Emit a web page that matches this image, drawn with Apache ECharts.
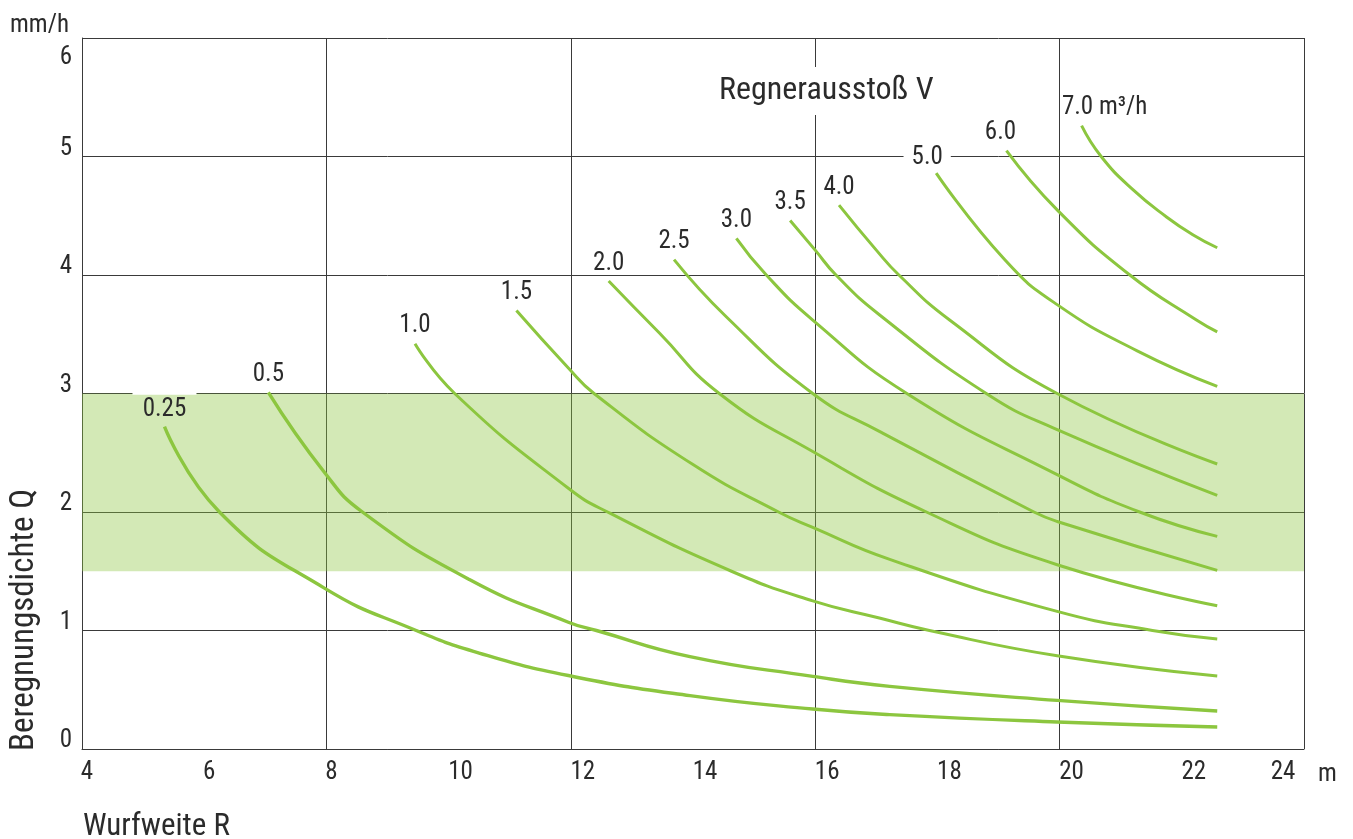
<!DOCTYPE html>
<html><head><meta charset="utf-8">
<script src="https://cdn.jsdelivr.net/npm/echarts@6/dist/echarts.min.js"></script>
<style>html,body{margin:0;padding:0;background:#fff}#c{width:1353px;height:839px}</style>
</head><body><div id="c"></div>
<script>
// ---- data ----
const xMin = 4, xMax = 24, yMin = 0, yMax = 6;
const bandLow = 1.5, bandHigh = 3.0;
const curveNames = ['0.25','0.5','1.0','1.5','2.0','2.5','3.0','3.5','4.0','5.0','6.0','7.0'];
const curveLabels = ['0.25','0.5','1.0','1.5','2.0','2.5','3.0','3.5','4.0','5.0','6.0','7.0 m³/h'];

const R_025 = [5.35,6.25,7.96,9.47,10.5,11.96,13.95,15.96,17.22,19.96,22.58];
const Q_025 = [2.72,2.0,1.36,1.0,0.81,0.62,0.45,0.337,0.29,0.228,0.186];
const R_05 = [7.05,7.96,8.59,10.34,11.96,12.42,13.95,15.96,17.22,19.96,22.58];
const Q_05 = [3.01,2.34,2.0,1.43,1.07,1.0,0.78,0.613,0.528,0.41,0.321];
const R_10 = [9.45,10.10,11.96,12.64,14.63,15.96,17.05,17.87,19.96,22.58];
const Q_10 = [3.42,3.0,2.2,1.99,1.5,1.25,1.105,1.0,0.787,0.616];
const R_15 = [11.11,11.96,12.38,14.0,15.4,15.96,17.22,19.96,21.52,22.58];
const Q_15 = [3.70,3.215,3.0,2.40,2.0,1.87,1.6,1.161,1.0,0.928];
const R_20 = [12.62,13.45,14.43,15.96,17.82,19.96,22.58];
const Q_20 = [3.95,3.51,3.0,2.51,2.0,1.555,1.209];
const R_25 = [13.69,14.54,15.96,17.05,19.58,19.96,22.58];
const Q_25 = [4.13,3.65,3.0,2.68,2.0,1.92,1.507];
const R_30 = [14.71,15.2,15.96,17.5,19.96,21.31,22.58];
const Q_30 = [4.31,4.0,3.62,3.0,2.315,2.0,1.794];
const R_35 = [15.59,16.0,16.34,17.05,18.8,19.96,22.58];
const Q_35 = [4.46,4.21,4.0,3.665,3.0,2.695,2.14];
const R_40 = [16.39,17.0,17.37,18.2,19.96,22.58];
const Q_40 = [4.59,4.21,4.0,3.62,3.0,2.405];
const R_50 = [17.98,19.1,19.96,21.27,22.58];
const Q_50 = [4.86,4.13,3.75,3.36,3.06];
const R_60 = [19.13,19.96,21.15,22.24,22.58];
const Q_60 = [5.05,4.55,4.0,3.62,3.52];
const R_70 = [20.36,20.68,21.2,21.75,22.18,22.58];
const Q_70 = [5.26,5.0,4.72,4.49,4.34,4.23];

const curveR = [R_025,R_05,R_10,R_15,R_20,R_25,R_30,R_35,R_40,R_50,R_60,R_70];
const curveQ = [Q_025,Q_05,Q_10,Q_15,Q_20,Q_25,Q_30,Q_35,Q_40,Q_50,Q_60,Q_70];

// ---- styling ----
const FONT = "'Liberation Sans Narrow','Arial Narrow','Roboto Condensed',Roboto,sans-serif";
const TXT = '#2b2b2b';
const GRID = '#3a3a3a';
const GREEN = '#8cc63f';

const chart = echarts.init(document.getElementById('c'), null, {renderer:'canvas'});

function labelFor(i) {
  const base = {show:true, position:'top', distance:5, color:TXT, fontFamily:FONT, fontSize:25};
  const name = curveLabels[i];
  if (name === '0.25') {
    return Object.assign(base, {
      formatter:'{g|}\n{t|0.25}',
      distance:2,
      rich:{
        g:{width:64, height:4, backgroundColor:'#fff'},
        t:{fontFamily:FONT, fontSize:25, color:TXT, lineHeight:30}
      }
    });
  }
  if (name === '5.0') {
    return Object.assign(base, {formatter:name, offset:[-9,2], backgroundColor:'#fff', padding:[0,8,0,8]});
  }
  if (name === '6.0') return Object.assign(base, {formatter:name, offset:[-6,0]});
  if (name.indexOf('7.0') === 0) return Object.assign(base, {formatter:name, offset:[23,0]});
  return Object.assign(base, {formatter:name});
}

const series = [{
  type:'line', data:[], xAxisIndex:0, yAxisIndex:0, z:1, silent:true,
  markArea:{silent:true, itemStyle:{color:'rgba(140,198,63,0.38)'},
    data:[[{yAxis:bandLow},{yAxis:bandHigh}]]}
}];
curveNames.forEach((nm, i) => {
  const R = curveR[i], Q = curveQ[i];
  series.push({
    type:'line', name:nm, xAxisIndex:0, yAxisIndex:0, z:3,
    smooth:0.5,
    showSymbol:true, symbol:'circle', symbolSize:0.01,
    itemStyle:{color:GREEN},
    lineStyle:{color:GREEN, width: i < 2 ? 3.4 : 3},
    emphasis:{disabled:true},
    data:R.map((r, k) => k === 0 ? {value:[r, Q[k]], label:labelFor(i)} : [r, Q[k]])
  });
});

const lblA = {fontFamily:FONT, fontSize:25, color:TXT};
chart.setOption({
  animation:false,
  backgroundColor:'#fff',
  grid:{left:82, right:49, top:38, bottom:90, show:false},
  title:[
    {text:'mm/h', left:10, top:13, padding:0, textStyle:{fontFamily:FONT, fontSize:25, fontWeight:'normal', color:TXT}},
    {text:'Wurfweite R', left:83, top:812, padding:0, textStyle:{fontFamily:FONT, fontSize:31, fontWeight:'normal', color:TXT}},
    {text:'m', left:1318, top:762, padding:0, textStyle:{fontFamily:FONT, fontSize:25, fontWeight:'normal', color:TXT}},
    {text:'Regnerausstoß V', left:713, top:67, padding:[6,6,6,6], backgroundColor:'#fff',
      textStyle:{fontFamily:FONT, fontSize:32, lineHeight:36, fontWeight:'normal', color:TXT}}
  ],
  graphic:[{
    type:'text', x:25, y:620, rotation:Math.PI/2,
    style:{text:'Beregnungsdichte Q', fontFamily:FONT, fontSize:33, fill:TXT, align:'center', verticalAlign:'middle'}
  }],
  xAxis:[
    {type:'value', min:xMin, max:xMax, interval:4,
      axisLine:{show:true, onZero:false, lineStyle:{color:GRID, width:1}},
      axisTick:{show:false}, axisLabel:{show:false},
      splitLine:{show:true, lineStyle:{color:GRID, width:1}}},
    {type:'value', min:xMin, max:xMax, interval:2, position:'bottom',
      axisLine:{show:false}, axisTick:{show:false}, splitLine:{show:false},
      axisLabel:{margin:11, fontFamily:FONT, fontSize:25, color:TXT,
        formatter:v => v === 24 ? '{r|24}' : (v <= 8 ? '{a|' + v + '}' : '{b|' + v + '}'),
        rich:{
          a:Object.assign({padding:[0,0,0,10]}, lblA),
          b:Object.assign({padding:[0,0,0,24]}, lblA),
          r:Object.assign({padding:[0,42,0,0]}, lblA)
        }}}
  ],
  yAxis:[{type:'value', min:yMin, max:yMax, interval:1,
    axisLine:{show:true, onZero:false, lineStyle:{color:GRID, width:1}},
    axisTick:{show:false},
    splitLine:{show:true, lineStyle:{color:GRID, width:1}},
    axisLabel:{margin:10, fontFamily:FONT, fontSize:25, color:TXT,
      formatter:v => v === 6 ? '{t|6}' : '{a|' + v + '}',
      rich:{
        a:Object.assign({padding:[0,0,16,0]}, lblA),
        t:Object.assign({padding:[40,0,0,0]}, lblA)
      }}}],
  series:series
});
</script></body></html>
